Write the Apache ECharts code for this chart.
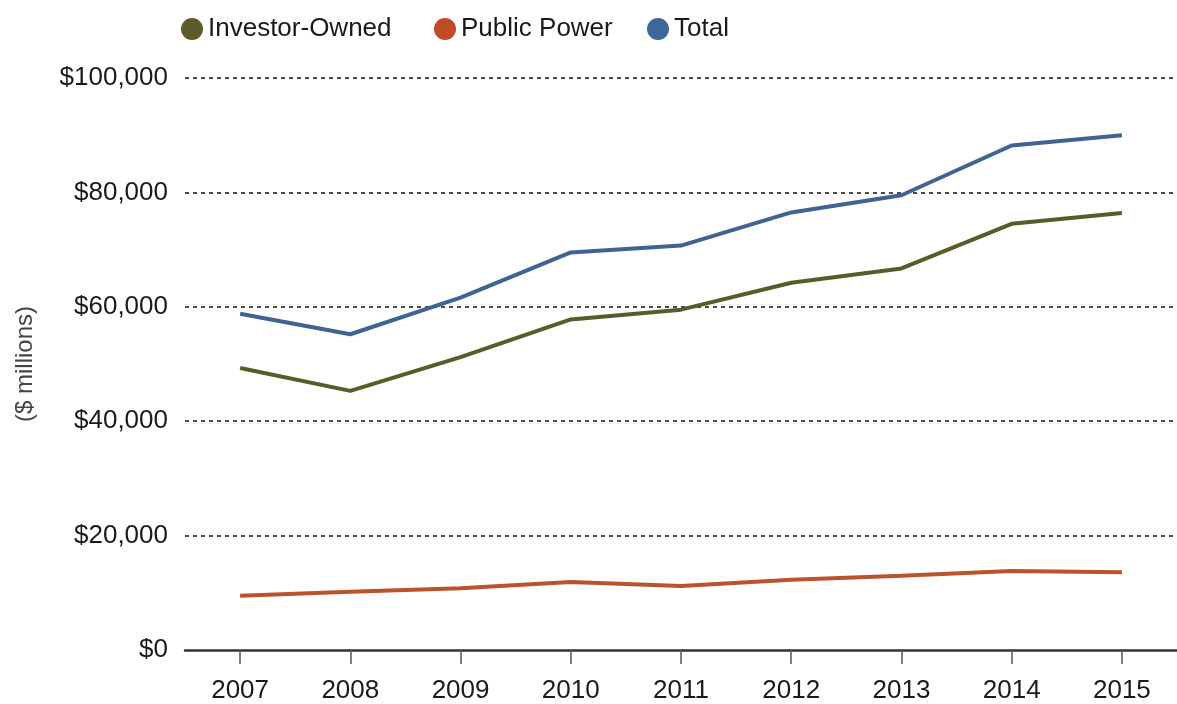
<!DOCTYPE html>
<html>
<head>
<meta charset="utf-8">
<script src="https://cdn.jsdelivr.net/npm/echarts@6/dist/echarts.min.js"></script>
<style>
html,body{margin:0;padding:0;background:#fff;}
#chart{width:1177px;height:704px;}
</style>
</head>
<body>
<div id="chart"></div>
<script>
const years = ['2007','2008','2009','2010','2011','2012','2013','2014','2015'];
const investorOwned = [49300, 45300, 51200, 57800, 59500, 64200, 66700, 74500, 76400];
const publicPower = [9500, 10200, 10800, 11900, 11200, 12300, 13000, 13800, 13600];
const total = [58800, 55200, 61600, 69500, 70700, 76500, 79500, 88200, 90000];
const yTicks = [0, 20000, 40000, 60000, 80000, 100000];
const seriesNames = ['Investor-Owned', 'Public Power', 'Total'];

const lineColors = ['#5b5a2b', '#b9532d', '#3f6392'];
const legendColors = ['#5d5a2c', '#c24a28', '#3d679a'];
const legendLefts = [176, 429, 642];
const font = '"Liberation Sans", Arial, sans-serif';

const chart = echarts.init(document.getElementById('chart'), null, {renderer: 'canvas'});
const seriesData = [investorOwned, publicPower, total];

chart.setOption({
  animation: false,
  backgroundColor: '#ffffff',
  legend: seriesNames.map((n, i) => ({
    left: legendLefts[i],
    top: 11,
    itemWidth: 22,
    itemHeight: 22,
    icon: 'circle',
    textStyle: {fontFamily: font, fontSize: 26, color: '#1a1a1a'},
    data: [{name: n, itemStyle: {color: legendColors[i]}}]
  })),
  grid: {left: 185, right: -6, top: 78, bottom: 53, containLabel: false},
  xAxis: {
    type: 'category',
    data: years,
    boundaryGap: true,
    axisLine: {show: true, lineStyle: {color: '#333', width: 2.5}},
    axisTick: {show: true, alignWithLabel: true, length: 14, lineStyle: {color: '#555', width: 1.5}},
    axisLabel: {fontFamily: font, fontSize: 26, color: '#1a1a1a', margin: 28},
    splitLine: {show: false}
  },
  yAxis: {
    type: 'value',
    min: yTicks[0],
    max: yTicks[yTicks.length - 1],
    interval: yTicks[1] - yTicks[0],
    name: '($ millions)',
    nameLocation: 'middle',
    nameRotate: 90,
    nameGap: 148,
    nameTextStyle: {fontFamily: font, fontSize: 24, color: '#444'},
    axisLine: {show: false},
    axisTick: {show: false},
    axisLabel: {
      fontFamily: font, fontSize: 26, color: '#1a1a1a', margin: 17,
      formatter: v => '$' + v.toLocaleString('en-US')
    },
    splitLine: {
      show: true,
      showMinLine: false,
      lineStyle: {color: '#4a4a4a', width: 2, type: [4, 4]}
    }
  },
  series: seriesNames.map((n, i) => ({
    name: n,
    type: 'line',
    data: seriesData[i],
    showSymbol: false,
    symbol: 'none',
    lineStyle: {color: lineColors[i], width: 4},
    itemStyle: {color: legendColors[i]},
    z: 3 + i
  }))
});
</script>
</body>
</html>
